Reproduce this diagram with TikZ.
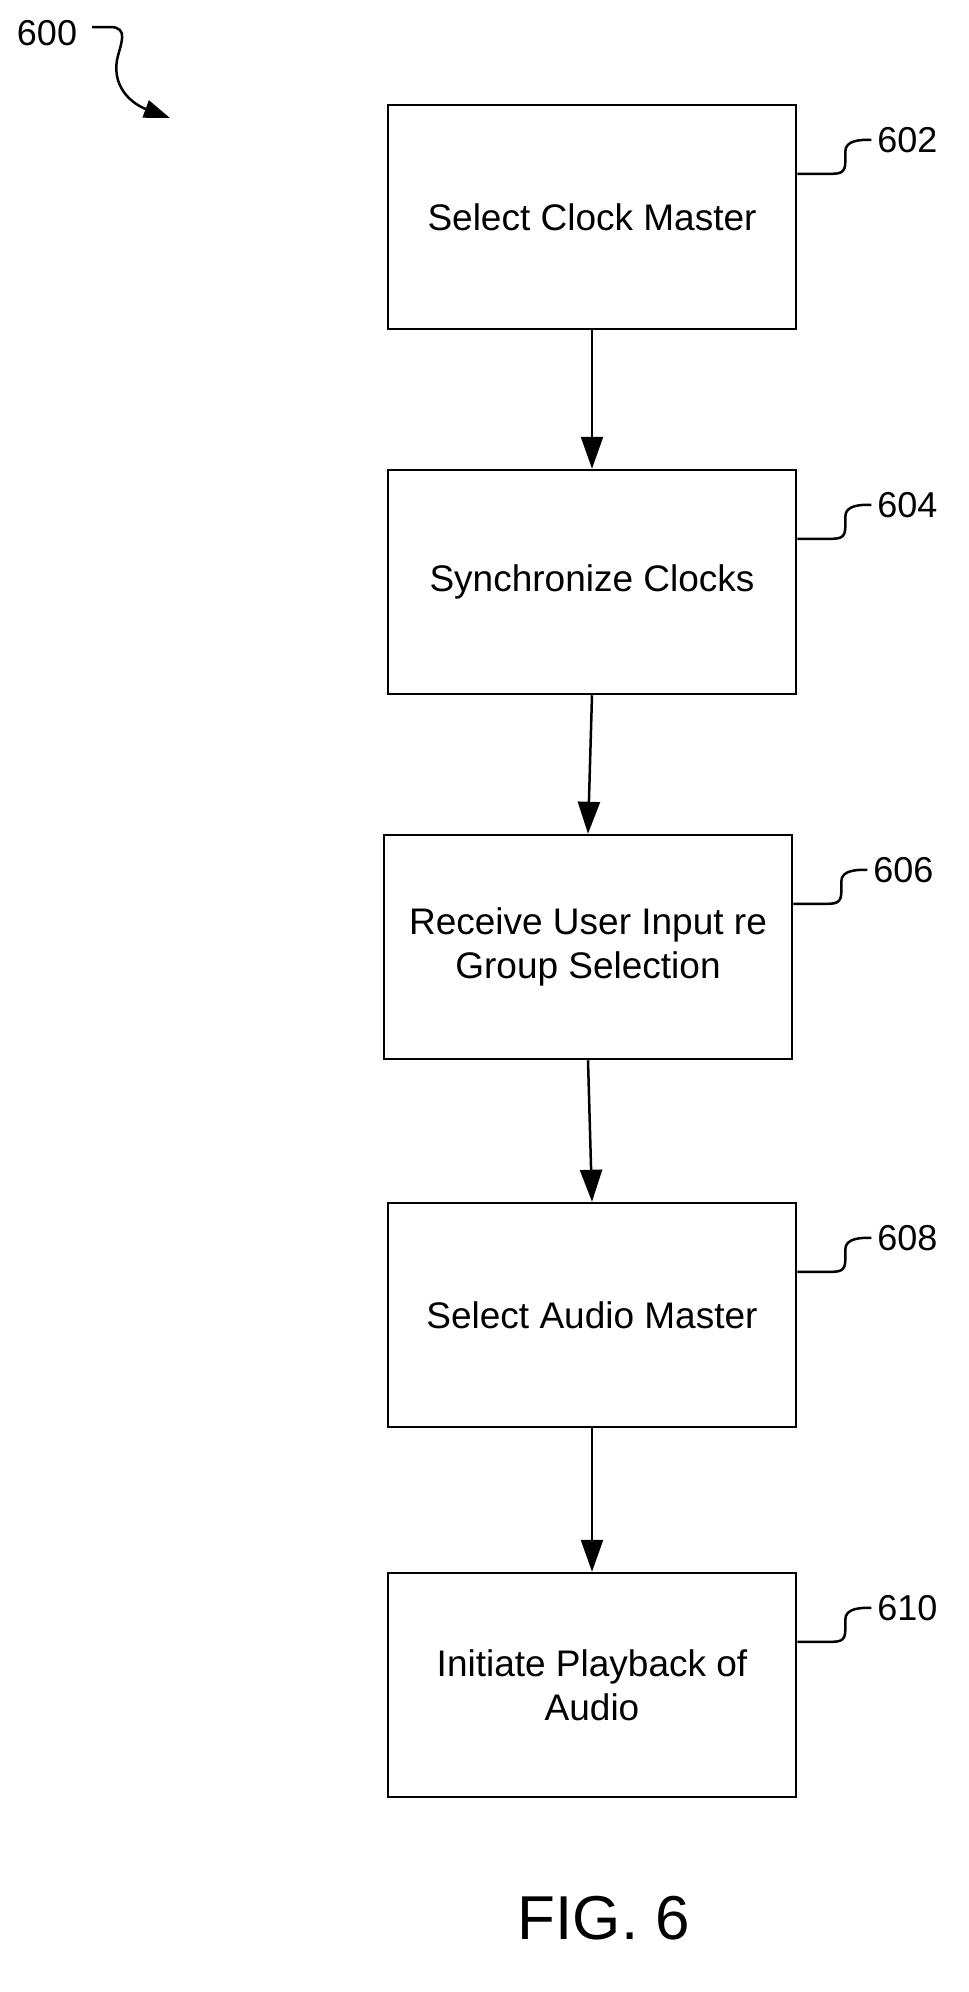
\documentclass[tikz,border=0pt]{standalone}
\usepackage{fontspec}
\setmainfont{Liberation Sans}
\usetikzlibrary{arrows.meta}
\begin{document}
\begin{tikzpicture}[x=1pt,y=-1pt,
  box/.style={draw,line width=2.5pt,minimum width=408pt,minimum height=224pt,align=center,font=\fontsize{37}{44}\selectfont,inner sep=0pt},
  lbl/.style={font=\fontsize{36}{40}\selectfont,anchor=west,inner sep=0pt},
  arr/.style={line width=2.5pt,-{Triangle[length=32pt,width=22pt]}},
  sq/.style={line width=2.5pt}]
\useasboundingbox (0,0) rectangle (969,1992);
\node[box] (b1) at (592,217) {Select Clock Master};
\node[box] (b2) at (592,582) {Synchronize Clocks};
\node[box] (b3) at (588,947) {Receive User Input re\\Group Selection};
\node[box] (b4) at (592,1315) {Select Audio Master};
\node[box] (b5) at (592,1685) {Initiate Playback of\\Audio};
\foreach \a/\b in {b1/b2,b2/b3,b3/b4,b4/b5}
  \draw[arr] (\a.south) -- (\b.north);
\foreach \b/\t in {b1/602,b2/604,b3/606,b4/608,b5/610}{
  \node[lbl] (l\b) at ([xshift=80pt,yshift=-36pt]\b.north east) {\t};
  \draw[sq] ([yshift=-70pt]\b.north east) -- ++(36,0) .. controls ++(14,0) and ++(0,14) .. ++(12,-22) .. controls ++(0,-12) and ++(-10,0) .. ([xshift=-6pt]l\b.west);
}
\node[font=\fontsize{36}{40}\selectfont,inner sep=0pt] (l600) at (47,33) {600};
\coordinate (t600) at (170,118);
\draw[line width=2.5pt,-{Triangle[length=26pt,width=18pt]}] (92,27) -- (110,27) .. controls (130,27) and (120,45) .. (117,60) .. controls (112,90) and (135,105) .. (t600);
\node[font=\fontsize{62}{70}\selectfont,inner sep=0pt] (fig) at (604,1918) {FIG. 6};
\end{tikzpicture}
\end{document}
